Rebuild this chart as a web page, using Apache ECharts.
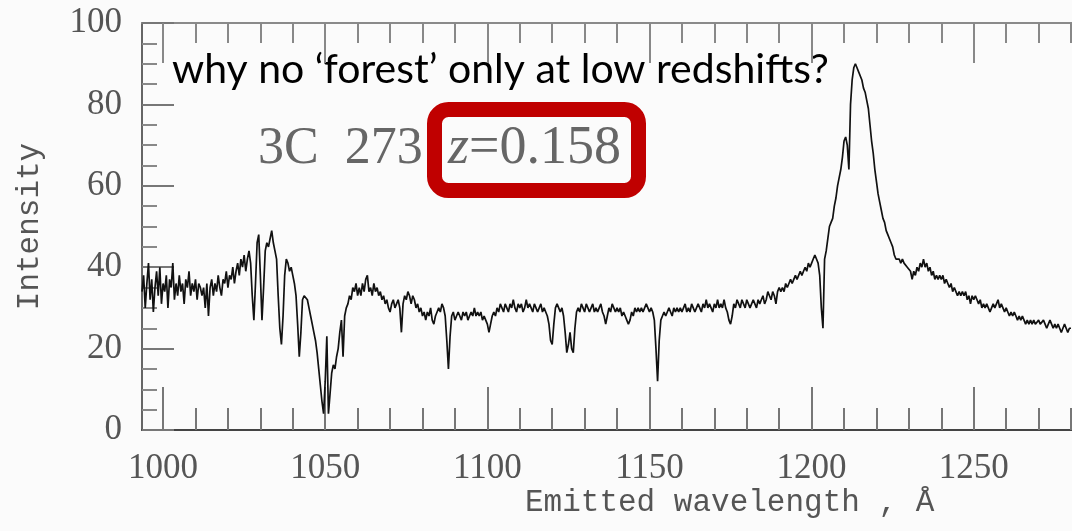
<!DOCTYPE html>
<html>
<head>
<meta charset="utf-8">
<script src="https://cdn.jsdelivr.net/npm/echarts@6/dist/echarts.min.js"></script>
<style>
  html, body { margin: 0; padding: 0; background: #fbfbfb; }
  #chart { width: 1072px; height: 531px; }
</style>
</head>
<body>
<div id="chart"></div>
<script>
// 3C 273 rest-frame UV spectrum: [emitted wavelength (Å), intensity]
const blueContinuum = [
  [993.5,34],[994,38],[994.5,30],[995,36],[995.5,41],[996,32],[996.5,37],[997,29],[997.5,35],[998,39],
  [998.5,33],[999,40],[999.5,31],[1000,36],[1000.5,34],[1001,38],[1001.5,30],[1002,37],[1002.5,35],[1003,41],
  [1003.5,32],[1004,36],[1004.5,33],[1005,38],[1005.5,34],[1006,36],[1006.5,31],[1007,37],[1007.5,35],[1008,39],
  [1008.5,33],[1009,36],[1009.5,34],[1010,37],[1010.5,32],[1011,36],[1011.5,35],[1012,33],
  [1012.5,35],[1013,30],[1013.5,36],[1014,28],[1014.5,35],[1015,37],[1015.5,33],[1016,36],[1016.5,34],[1017,38],
  [1017.5,35],[1018,33],[1018.5,37],[1019,36],[1019.5,39],[1020,35],[1020.5,38],[1021,37],[1021.5,40],[1022,36],
  [1022.5,39],[1023,41],[1023.5,38],[1024,42],[1024.5,40],[1025,43],[1025.5,39],[1026,42],[1026.5,44],[1027,41]
];
const oviRegion = [
  [1027.5,33],[1028,27],[1028.5,36],[1029,46],[1029.5,48],[1030,38],[1030.5,27],[1031,35],[1031.5,44],[1032,46],
  [1032.5,45],[1033,47],[1033.5,49],[1034,46],[1034.5,44],[1035,42],[1035.5,33],[1036,25],[1036.5,21],[1037,28],
  [1037.5,38],[1038,42],[1038.5,41],[1039,39],[1039.5,40],[1040,38],[1040.5,36],[1041,33],[1041.5,26],[1042,18],
  [1042.5,24],[1043,32],[1043.5,33],[1044,33],[1044.5,32],[1045,30],[1045.5,28],[1046,26],[1046.5,24],[1047,22],
  [1047.5,19],[1048,15],[1048.5,11],[1049,7],[1049.5,4],[1050,12],[1050.5,23],[1051,4],[1051.5,9],[1052,14],
  [1052.5,16],[1053,15],[1053.5,18],[1054,20],[1054.5,24],[1055,27],[1055.5,18],[1056,28],[1056.5,30],[1057,31],
  [1057.5,33],[1058,32],[1058.5,35],[1059,34],[1059.5,36],[1060,33]
];
const lyBetaSide = [
  [1060.5,35],[1061,33],[1061.5,36],[1062,34],[1062.5,37],[1063,38],[1063.5,34],[1064,35],[1064.5,33],[1065,36],
  [1065.5,34],[1066,35],[1066.5,33],[1067,34],[1067.5,32],[1068,33],[1068.5,31],[1069,32],[1069.5,30],[1070,29],
  [1070.5,31],[1071,32],[1071.5,30],[1072,31],[1072.5,32],[1073,30],[1073.5,24],[1074,31],[1074.5,33],[1075,32],
  [1075.5,34],[1076,33],[1076.5,31],[1077,33],[1077.5,32],[1078,30],[1078.5,31],[1079,29],[1079.5,30],[1080,28],
  [1080.5,29],[1081,27],[1081.5,29],[1082,28],[1082.5,30],[1083,27],[1083.5,26],[1084,28],[1084.5,29],[1085,30],
  [1085.5,29],[1086,31],[1086.5,30],[1087,28],[1087.5,22],[1088,15],[1088.5,23],[1089,28],[1089.5,29],[1090,27],
  [1090.5,28],[1091,29],[1091.5,28],[1092,27],[1092.5,29],[1093,28],[1093.5,29],[1094,27],[1094.5,28],[1095,29],
  [1095.5,28],[1096,30],[1096.5,28],[1097,29],[1097.5,28],[1098,29],[1098.5,27],[1099,28],[1099.5,27],[1100,26],
  [1100.5,24],[1101,26],[1101.5,28],[1102,29],[1102.5,28],[1103,30]
];
const midContinuum = [
  [1103.5,29],[1104,31],[1104.5,30],[1105,29],[1105.5,31],[1106,30],[1106.5,29],[1107,31],[1107.5,30],[1108,32],
  [1108.5,30],[1109,29],[1109.5,31],[1110,30],[1110.5,31],[1111,29],[1111.5,30],[1112,32],[1112.5,30],[1113,31],
  [1113.5,30],[1114,29],[1114.5,31],[1115,30],[1115.5,29],[1116,30],[1116.5,31],[1117,29],[1117.5,30],[1118,29],
  [1118.5,28],[1119,26],[1119.5,22],[1120,21],[1120.5,26],[1121,30],[1121.5,31],[1122,30],[1122.5,29],[1123,30],
  [1123.5,28],[1124,24],[1124.5,19],[1125,21],[1125.5,24],[1126,20],[1126.5,19],[1127,25],[1127.5,29],[1128,30],
  [1128.5,29],[1129,31],[1129.5,30],[1130,29],[1130.5,31],[1131,30],[1131.5,29],[1132,30],[1132.5,31],[1133,29],
  [1133.5,30],[1134,29],[1134.5,30],[1135,31],[1135.5,29],[1136,28],[1136.5,26],[1137,28],[1137.5,30],[1138,29],
  [1138.5,31],[1139,30],[1139.5,29],[1140,30],[1140.5,29],[1141,30],[1141.5,28],[1142,29],[1142.5,28],[1143,27],
  [1143.5,26],[1144,27],[1144.5,29],[1145,28],[1145.5,30],[1146,29],[1146.5,30],[1147,29],[1147.5,30],[1148,29],
  [1148.5,30],[1149,31],[1149.5,30],[1150,29],[1150.5,30],[1151,29],[1151.5,27],[1152,20],[1152.5,12],[1153,22],
  [1153.5,27]
];
const lyAlphaBlueWing = [
  [1154,28],[1154.5,29],[1155,28],[1155.5,29],[1156,30],[1156.5,29],[1157,28],[1157.5,30],[1158,29],[1158.5,30],
  [1159,29],[1159.5,30],[1160,29],[1160.5,30],[1161,31],[1161.5,29],[1162,30],[1162.5,29],[1163,31],[1163.5,30],
  [1164,29],[1164.5,30],[1165,31],[1165.5,30],[1166,29],[1166.5,31],[1167,30],[1167.5,32],[1168,30],[1168.5,31],
  [1169,30],[1169.5,29],[1170,31],[1170.5,30],[1171,32],[1171.5,30],[1172,31],[1172.5,30],[1173,32],[1173.5,30],
  [1174,29],[1174.5,27],[1175,26],[1175.5,28],[1176,31],[1176.5,30],[1177,32],[1177.5,31],[1178,30],[1178.5,32],
  [1179,31],[1179.5,30],[1180,32],[1180.5,31],[1181,30],[1181.5,31],[1182,32],[1182.5,31],[1183,30],[1183.5,32],
  [1184,31],[1184.5,32],[1185,33],[1185.5,31],[1186,32],[1186.5,34],[1187,33],[1187.5,32],[1188,34],[1188.5,33],
  [1189,31],[1189.5,34],[1190,35],[1190.5,34],[1191,35],[1191.5,34],[1192,36],[1192.5,35],[1193,36],[1193.5,37],
  [1194,36],[1194.5,37],[1195,38],[1195.5,37],[1196,38],[1196.5,39],[1197,38],[1197.5,39],[1198,40],[1198.5,39],
  [1199,41],[1199.5,40],[1200,41],[1200.5,42],[1201,43],[1201.5,42]
];
const lyAlphaLine = [
  [1202,41],[1202.5,38],[1203,30],[1203.5,25],[1204,42],[1204.5,44],[1205,47],[1205.5,50],[1206,51],[1206.5,52],
  [1207,55],[1207.5,57],[1208,60],[1208.5,62],[1209,64],[1209.5,67],[1210,71],[1210.5,72],[1211,70],[1211.5,64],
  [1212,80],[1212.5,86],[1213,89],[1213.5,90],[1214,89],[1214.5,88],[1215,88],[1215.5,86],[1216,84],[1216.5,83],
  [1217,81],[1217.5,79],[1218,75],[1218.5,71],[1219,68],[1219.5,64],[1220,61],[1220.5,58],[1221,56],[1221.5,54],
  [1222,52],[1222.5,51],[1223,49],[1223.5,48],[1224,47],[1224.5,46],[1225,45],[1225.5,43],[1226,42],[1226.5,42],
  [1227,42],[1227.5,41],[1228,42],[1228.5,41],[1229,41],[1229.5,40],[1230,40]
];
const redTail = [
  [1230.5,39],[1231,37],[1231.5,39],[1232,38],[1232.5,40],[1233,39],[1233.5,41],[1234,40],[1234.5,42],[1235,40],
  [1235.5,41],[1236,39],[1236.5,40],[1237,38],[1237.5,39],[1238,37],[1238.5,38],[1239,37],[1239.5,38],[1240,37],
  [1240.5,38],[1241,36],[1241.5,37],[1242,36],[1242.5,35],[1243,36],[1243.5,34],[1244,35],[1244.5,34],[1245,33],
  [1245.5,34],[1246,33],[1246.5,34],[1247,33],[1247.5,34],[1248,32],[1248.5,33],[1249,31],[1249.5,33],[1250,32],
  [1250.5,33],[1251,32],[1251.5,31],[1252,32],[1252.5,30],[1253,31],[1253.5,30],[1254,31],[1254.5,30],[1255,29],
  [1255.5,30],[1256,31],[1256.5,30],[1257,31],[1257.5,32],[1258,30],[1258.5,31],[1259,30],[1259.5,29],[1260,30],
  [1260.5,29],[1261,28],[1261.5,29],[1262,28],[1262.5,29],[1263,28],[1263.5,27],[1264,28],[1264.5,27],[1265,28],
  [1265.5,27],[1266,26],[1266.5,27],[1267,26],[1267.5,27],[1268,26],[1268.5,27],[1269,26],[1269.5,26],[1270,27],
  [1270.5,26],[1271,26],[1271.5,27],[1272,26],[1272.5,25],[1273,26],[1273.5,27],[1274,26],[1274.5,25],[1275,26],
  [1275.5,25],[1276,26],[1276.5,25],[1277,24],[1277.5,25],[1278,26],[1278.5,25],[1279,24],[1279.5,25],[1280,25]
];

// Axis ticks and labels
const xMajorTicks = [1000, 1050, 1100, 1150, 1200, 1250];
const xMinorTicks = [1000,1010,1020,1030,1040,1050,1060,1070,1080,1090,1100,1110,1120,1130,1140,
                     1150,1160,1170,1180,1190,1200,1210,1220,1230,1240,1250,1260,1270,1280];
const xRange = [993.5, 1280.3];
const yRange = [0, 100];

const spectrum = [].concat(blueContinuum, oviRegion, lyBetaSide, midContinuum,
                           lyAlphaBlueWing, lyAlphaLine, redTail);

const tickFont = { fontFamily: 'Liberation Serif', fontSize: 35, color: '#555' };
const axisGray = '#666';

function xAxisLayer(position, ticks, len, withLabels, withLine) {
  return {
    type: 'value', position: position, min: xRange[0], max: xRange[1],
    splitLine: { show: false },
    axisLine: { show: withLine, onZero: false, lineStyle: { color: position === 'top' ? '#8a8a8a' : '#444', width: 2 } },
    axisTick: { show: true, inside: true, length: len, customValues: ticks,
                lineStyle: { color: position === 'top' ? '#888' : '#777', width: 2 } },
    axisLabel: withLabels
      ? Object.assign({ show: true, margin: 21, customValues: xMajorTicks, formatter: v => String(v) }, tickFont)
      : { show: false }
  };
}

const chart = echarts.init(document.getElementById('chart'), null, { renderer: 'canvas' });
chart.setOption({
  backgroundColor: '#fbfbfb',
  animation: false,
  grid: { left: 142, right: 0, top: 23, bottom: 101, containLabel: false },
  xAxis: [
    xAxisLayer('bottom', xMajorTicks, 43, true, true),
    xAxisLayer('bottom', xMinorTicks, 22, false, false),
    xAxisLayer('top', xMajorTicks, 40, false, true),
    xAxisLayer('top', xMinorTicks, 20, false, false)
  ],
  yAxis: {
    type: 'value', min: yRange[0], max: yRange[1], interval: 20,
    name: 'Intensity', nameLocation: 'middle', nameGap: 97, nameRotate: 90,
    nameTextStyle: { fontFamily: 'Liberation Mono', fontSize: 31, color: '#555' },
    splitLine: { show: false },
    axisLine: { show: true, lineStyle: { color: axisGray, width: 2 } },
    axisTick: { show: true, inside: true, length: 32, lineStyle: { color: '#777', width: 2 } },
    minorTick: { show: true, splitNumber: 4, length: 15, lineStyle: { color: '#888', width: 2 } },
    axisLabel: Object.assign({ margin: 20, formatter: v => String(v) }, tickFont)
  },
  series: [{
    type: 'line',
    data: spectrum,
    xAxisIndex: 0,
    showSymbol: false,
    lineStyle: { color: '#111', width: 1.7 },
    z: 3
  }],
  graphic: [
    {
      type: 'text', left: 525, top: 487,
      style: { text: 'Emitted wavelength , Å', font: '31px "Liberation Mono"', fill: '#555' }
    },
    {
      type: 'text', left: 172, top: 49,
      style: { text: 'why no ‘forest’ only at low redshifts?', font: '41px Lato', fill: '#000' }
    },
    {
      type: 'text', left: 258, top: 123,
      style: { text: '3C  273', font: '52px "Liberation Serif"', fill: '#666' }
    },
    {
      type: 'text', left: 448, top: 122,
      style: {
        text: '{i|z}=0.158',
        font: '54px "Liberation Serif"', fill: '#666',
        rich: { i: { fontFamily: 'Liberation Serif', fontStyle: 'italic', fontSize: 54, fill: '#666' } }
      }
    },
    {
      type: 'rect',
      shape: { x: 434.5, y: 109.5, width: 204, height: 81, r: 14 },
      style: { fill: 'none', stroke: '#c00000', lineWidth: 15 },
      z: 10
    }
  ]
});
</script>
</body>
</html>
